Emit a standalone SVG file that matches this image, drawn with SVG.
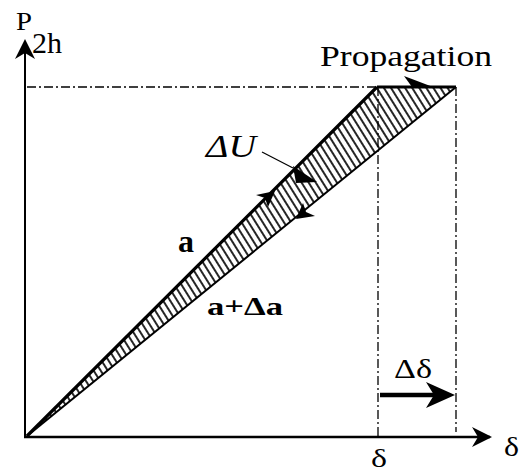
<svg xmlns="http://www.w3.org/2000/svg" width="519" height="474" viewBox="0 0 519 474">
<defs>
<style>
.serif{font-family:"Liberation Serif","Times New Roman",serif;fill:#000}
.dd{stroke:#000;stroke-width:1.3;fill:none;stroke-dasharray:9 3 2 3}
.ax{stroke:#000;fill:none}
</style>
<pattern id="hatch" patternUnits="userSpaceOnUse" width="6" height="6" patternTransform="rotate(-32)">
<line x1="3" y1="0" x2="3" y2="6" stroke="#000" stroke-width="1.7"/>
</pattern>
<marker id="axhead" viewBox="0 0 20 20" refX="18" refY="10" markerWidth="20" markerHeight="20" markerUnits="userSpaceOnUse" orient="auto">
<path d="M0,0 L20,10 L0,20 L6,10 Z" fill="#000"/>
</marker>
</defs>
<rect width="519" height="474" fill="#fff"/>
<g id="hatched-area">
<path d="M27,436 L377,87 L456,87 Z" fill="url(#hatch)" stroke="none"/>
</g>
<g id="connectors">
<line class="dd" x1="27" y1="87" x2="377" y2="87"/>
<line class="dd" x1="378" y1="87" x2="378" y2="437"/>
<line class="dd" x1="456" y1="87" x2="456" y2="432"/>
<line class="ax" x1="25" y1="437" x2="25" y2="41" stroke-width="2" marker-end="url(#axhead)"/>
<line class="ax" x1="24" y1="437" x2="490" y2="437" stroke-width="2.5" marker-end="url(#axhead)"/>
<line x1="27" y1="436" x2="377" y2="87" stroke="#000" stroke-width="3.2"/>
<line x1="27" y1="436" x2="456" y2="87" stroke="#000" stroke-width="2"/>
<line x1="377" y1="87" x2="456" y2="87" stroke="#000" stroke-width="3"/>
<path d="M433,87 L404,76 L412,87 Z" fill="#000"/>
<line x1="380" y1="395" x2="440" y2="395" stroke="#000" stroke-width="4.5"/>
<path d="M455,395 L426,382 L434,395 L426,408 Z" fill="#000"/>
<path d="M275,191 L256,195 L265,198 L268,207 Z" fill="#000"/>
<path d="M296,219 L315,216 L306,212 L303,203 Z" fill="#000"/>
<line x1="262" y1="152" x2="293" y2="168" stroke="#000" stroke-width="1.3"/>
<path d="M293,166 L317,182 L296,183 Z" fill="#000"/>
</g>
<g id="labels">
<text class="serif" x="16" y="30" font-size="26" textLength="16" lengthAdjust="spacingAndGlyphs">P</text>
<text class="serif" x="32" y="53" font-size="29" textLength="30" lengthAdjust="spacingAndGlyphs">2h</text>
<text class="serif" x="320" y="66" font-size="29" textLength="172" lengthAdjust="spacingAndGlyphs">Propagation</text>
<text class="serif" x="206" y="157" font-size="31" font-style="italic" textLength="50" lengthAdjust="spacingAndGlyphs">ΔU</text>
<text class="serif" x="178" y="252" font-size="32" font-weight="bold" textLength="16" lengthAdjust="spacingAndGlyphs">a</text>
<text class="serif" x="207" y="315" font-size="26" font-weight="bold" textLength="76" lengthAdjust="spacingAndGlyphs">a+Δa</text>
<text class="serif" x="394" y="378" font-size="28" textLength="38" lengthAdjust="spacingAndGlyphs">Δδ</text>
<text class="serif" x="371" y="467" font-size="26" textLength="16" lengthAdjust="spacingAndGlyphs">δ</text>
<text class="serif" x="504" y="456" font-size="28" textLength="15" lengthAdjust="spacingAndGlyphs">δ</text>
</g>
</svg>
